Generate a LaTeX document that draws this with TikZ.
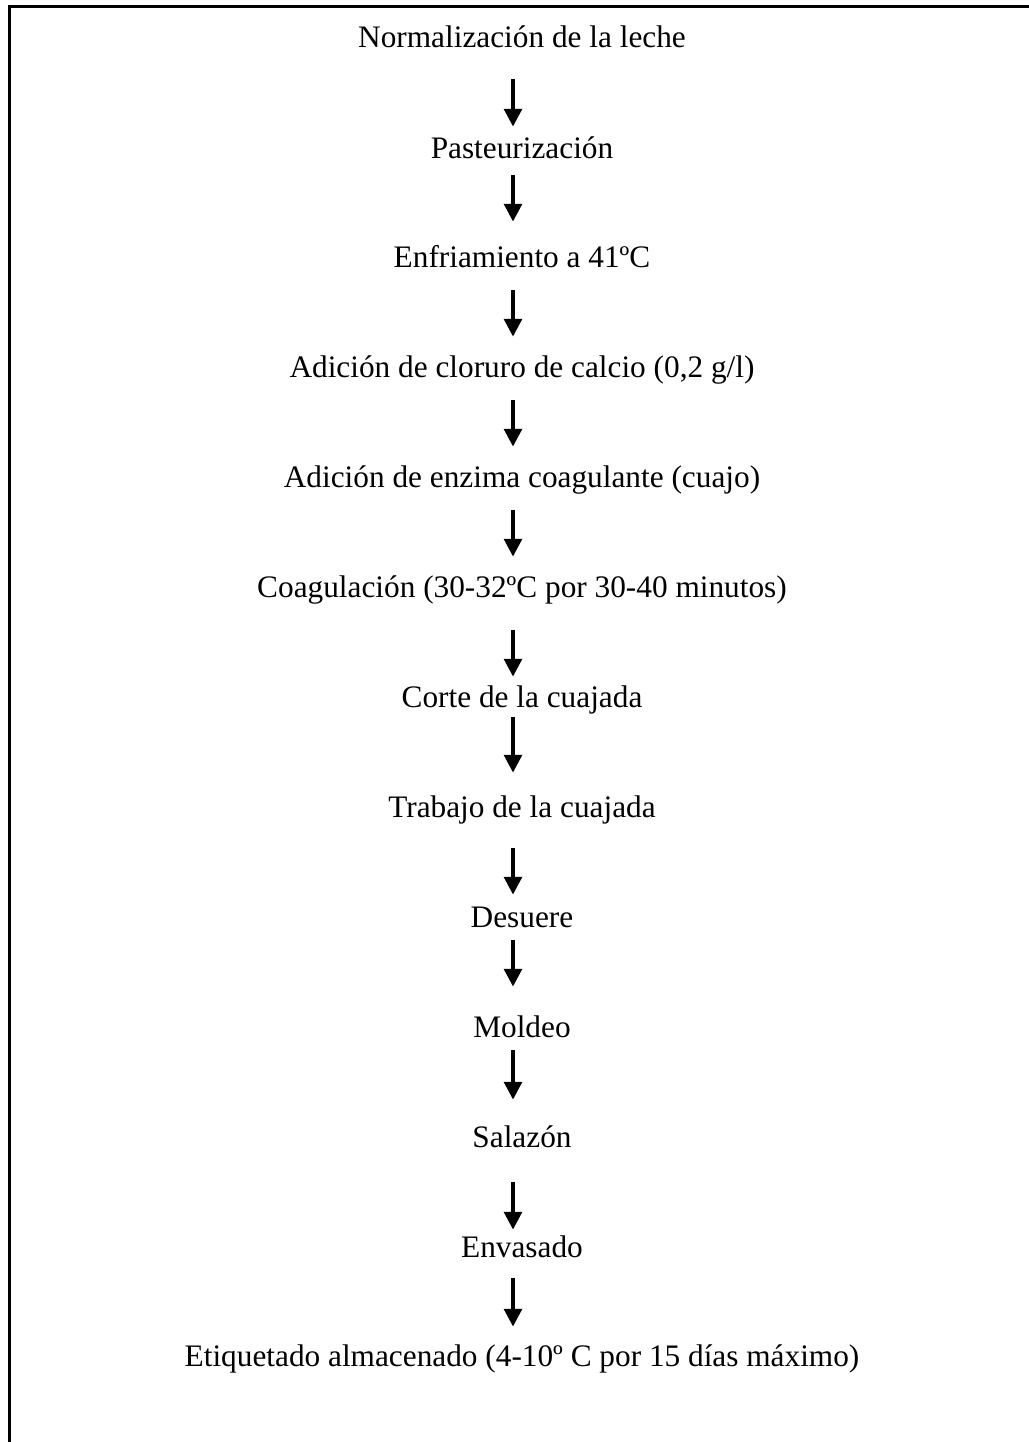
\documentclass[tikz,border=0pt]{standalone}
\usepackage{fontspec}
\setmainfont{Liberation Serif}
\usetikzlibrary{arrows.meta}
\begin{document}
\begin{tikzpicture}[x=0.3834pt, y=-0.3834pt]
	\pgfmathsetmacro{\px}{0.3834}
	\pgfmathsetmacro{\midX}{522}
	\tikzstyle{stage}=[font=\fontsize{12}{14}\selectfont, inner sep=0pt, text height=8.4pt, text depth=2.6pt, anchor=base]
	\tikzstyle{flow}=[line width=1.4pt, -{Triangle[length=6.8pt, width=6.8pt]}]
	\tikzstyle{frame}=[line width=0.8pt]

	\useasboundingbox (0,0) rectangle (1029,1442);
	\draw[frame] (1029,6.5) -- (9.5,6.5) -- (9.5,1442);

	\node[stage] (S1) at (\midX, 47)	{Normalización de la leche};
	\node[stage] (S2) at (\midX, 158)	{Pasteurización};
	\node[stage] (S3) at (\midX, 267)	{Enfriamiento a 41ºC};
	\node[stage] (S4) at (\midX, 377)	{Adición de cloruro de calcio (0,2 g/l)};
	\node[stage] (S5) at (\midX, 487)	{Adición de enzima coagulante (cuajo)};
	\node[stage] (S6) at (\midX, 597)	{Coagulación (30-32ºC por 30-40 minutos)};
	\node[stage] (S7) at (\midX, 707)	{Corte de la cuajada};
	\node[stage] (S8) at (\midX, 817)	{Trabajo de la cuajada};
	\node[stage] (S9) at (\midX, 927)	{Desuere};
	\node[stage] (S10) at (\midX, 1037)	{Moldeo};
	\node[stage] (S11) at (\midX, 1147)	{Salazón};
	\node[stage] (S12) at (\midX, 1257)	{Envasado};
	\node[stage] (S13) at (\midX, 1366)	{Etiquetado almacenado (4-10º C por 15 días máximo)};

	\draw[flow, shorten <={25*\px}, shorten >={9*\px}] ([xshift=-3.45pt]S1.south) -- ([xshift=-3.45pt]S2.north);
	\draw[flow, shorten <={10*\px}, shorten >={23*\px}] ([xshift=-3.45pt]S2.south) -- ([xshift=-3.45pt]S3.north);
	\draw[flow, shorten <={16*\px}, shorten >={18*\px}] ([xshift=-3.45pt]S3.south) -- ([xshift=-3.45pt]S4.north);
	\draw[flow, shorten <={16*\px}, shorten >={18*\px}] ([xshift=-3.45pt]S4.south) -- ([xshift=-3.45pt]S5.north);
	\draw[flow, shorten <={16*\px}, shorten >={18*\px}] ([xshift=-3.45pt]S5.south) -- ([xshift=-3.45pt]S6.north);
	\draw[flow, shorten <={26*\px}, shorten >={8*\px}] ([xshift=-3.45pt]S6.south) -- ([xshift=-3.45pt]S7.north);
	\draw[flow, shorten <={3*\px}, shorten >={22*\px}] ([xshift=-3.45pt]S7.south) -- ([xshift=-3.45pt]S8.north);
	\draw[flow, shorten <={24*\px}, shorten >={10*\px}] ([xshift=-3.45pt]S8.south) -- ([xshift=-3.45pt]S9.north);
	\draw[flow, shorten <={6*\px}, shorten >={28*\px}] ([xshift=-3.45pt]S9.south) -- ([xshift=-3.45pt]S10.north);
	\draw[flow, shorten <={6*\px}, shorten >={25*\px}] ([xshift=-3.45pt]S10.south) -- ([xshift=-3.45pt]S11.north);
	\draw[flow, shorten <={28*\px}, shorten >={5*\px}] ([xshift=-3.45pt]S11.south) -- ([xshift=-3.45pt]S12.north);
	\draw[flow, shorten <={14*\px}, shorten >={17*\px}] ([xshift=-3.45pt]S12.south) -- ([xshift=-3.45pt]S13.north);
\end{tikzpicture}
\end{document}
